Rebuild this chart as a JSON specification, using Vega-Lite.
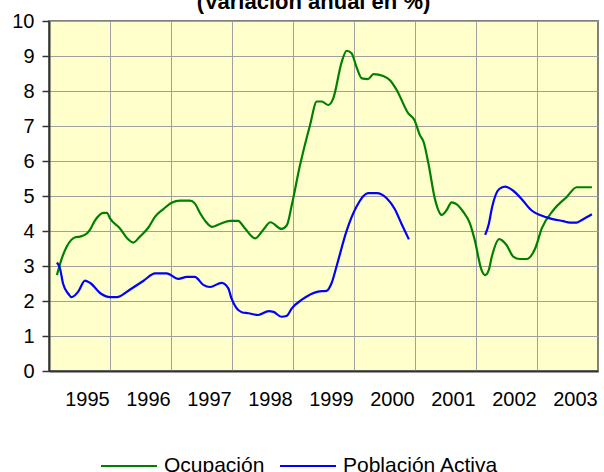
{
  "$schema": "https://vega.github.io/schema/vega-lite/v6.json",
  "width": 549,
  "height": 350,
  "autosize": {"type": "none"},
  "padding": {"left": 49, "top": 21, "right": 6, "bottom": 101},
  "background": "white",
  "title": {
    "text": "(Variación anual en %)",
    "font": "Liberation Sans",
    "fontSize": 22,
    "fontWeight": "bold",
    "color": "black",
    "anchor": "middle",
    "frame": "group",
    "baseline": "alphabetic",
    "offset": 0,
    "dx": -10,
    "dy": 20
  },
  "config": {
    "view": {"fill": "#FFFFCC", "stroke": "#808080", "strokeWidth": 2},
    "axis": {
      "labelFont": "Liberation Sans",
      "labelFontSize": 20,
      "labelColor": "black",
      "gridColor": "#a0a0a0",
      "gridWidth": 1,
      "domainColor": "#333333",
      "domainWidth": 2,
      "tickColor": "#333333",
      "title": null
    }
  },
  "data": {
    "values": [
      {"t": 1995.13, "v": 2.74, "serie": "Ocupación", "seg": "a"},
      {"t": 1995.21, "v": 3.22, "serie": "Ocupación", "seg": "a"},
      {"t": 1995.29, "v": 3.55, "serie": "Ocupación", "seg": "a"},
      {"t": 1995.43, "v": 3.82, "serie": "Ocupación", "seg": "a"},
      {"t": 1995.51, "v": 3.84, "serie": "Ocupación", "seg": "a"},
      {"t": 1995.62, "v": 3.93, "serie": "Ocupación", "seg": "a"},
      {"t": 1995.67, "v": 4.03, "serie": "Ocupación", "seg": "a"},
      {"t": 1995.75, "v": 4.29, "serie": "Ocupación", "seg": "a"},
      {"t": 1995.89, "v": 4.52, "serie": "Ocupación", "seg": "a"},
      {"t": 1995.95, "v": 4.52, "serie": "Ocupación", "seg": "a"},
      {"t": 1996.0, "v": 4.36, "serie": "Ocupación", "seg": "a"},
      {"t": 1996.16, "v": 4.08, "serie": "Ocupación", "seg": "a"},
      {"t": 1996.3, "v": 3.76, "serie": "Ocupación", "seg": "a"},
      {"t": 1996.38, "v": 3.67, "serie": "Ocupación", "seg": "a"},
      {"t": 1996.49, "v": 3.84, "serie": "Ocupación", "seg": "a"},
      {"t": 1996.63, "v": 4.1, "serie": "Ocupación", "seg": "a"},
      {"t": 1996.74, "v": 4.41, "serie": "Ocupación", "seg": "a"},
      {"t": 1996.87, "v": 4.62, "serie": "Ocupación", "seg": "a"},
      {"t": 1997.01, "v": 4.81, "serie": "Ocupación", "seg": "a"},
      {"t": 1997.15, "v": 4.87, "serie": "Ocupación", "seg": "a"},
      {"t": 1997.31, "v": 4.87, "serie": "Ocupación", "seg": "a"},
      {"t": 1997.39, "v": 4.79, "serie": "Ocupación", "seg": "a"},
      {"t": 1997.48, "v": 4.5, "serie": "Ocupación", "seg": "a"},
      {"t": 1997.56, "v": 4.29, "serie": "Ocupación", "seg": "a"},
      {"t": 1997.67, "v": 4.12, "serie": "Ocupación", "seg": "a"},
      {"t": 1997.8, "v": 4.2, "serie": "Ocupación", "seg": "a"},
      {"t": 1997.97, "v": 4.29, "serie": "Ocupación", "seg": "a"},
      {"t": 1998.1, "v": 4.29, "serie": "Ocupación", "seg": "a"},
      {"t": 1998.21, "v": 4.08, "serie": "Ocupación", "seg": "a"},
      {"t": 1998.38, "v": 3.79, "serie": "Ocupación", "seg": "a"},
      {"t": 1998.51, "v": 4.03, "serie": "Ocupación", "seg": "a"},
      {"t": 1998.63, "v": 4.25, "serie": "Ocupación", "seg": "a"},
      {"t": 1998.81, "v": 4.06, "serie": "Ocupación", "seg": "a"},
      {"t": 1998.9, "v": 4.17, "serie": "Ocupación", "seg": "a"},
      {"t": 1998.98, "v": 4.74, "serie": "Ocupación", "seg": "a"},
      {"t": 1999.11, "v": 5.84, "serie": "Ocupación", "seg": "a"},
      {"t": 1999.28, "v": 7.03, "serie": "Ocupación", "seg": "a"},
      {"t": 1999.39, "v": 7.7, "serie": "Ocupación", "seg": "a"},
      {"t": 1999.47, "v": 7.7, "serie": "Ocupación", "seg": "a"},
      {"t": 1999.58, "v": 7.6, "serie": "Ocupación", "seg": "a"},
      {"t": 1999.66, "v": 7.79, "serie": "Ocupación", "seg": "a"},
      {"t": 1999.8, "v": 8.84, "serie": "Ocupación", "seg": "a"},
      {"t": 1999.88, "v": 9.15, "serie": "Ocupación", "seg": "a"},
      {"t": 1999.96, "v": 9.08, "serie": "Ocupación", "seg": "a"},
      {"t": 2000.04, "v": 8.69, "serie": "Ocupación", "seg": "a"},
      {"t": 2000.13, "v": 8.36, "serie": "Ocupación", "seg": "a"},
      {"t": 2000.23, "v": 8.34, "serie": "Ocupación", "seg": "a"},
      {"t": 2000.32, "v": 8.48, "serie": "Ocupación", "seg": "a"},
      {"t": 2000.48, "v": 8.43, "serie": "Ocupación", "seg": "a"},
      {"t": 2000.59, "v": 8.31, "serie": "Ocupación", "seg": "a"},
      {"t": 2000.7, "v": 8.03, "serie": "Ocupación", "seg": "a"},
      {"t": 2000.89, "v": 7.36, "serie": "Ocupación", "seg": "a"},
      {"t": 2000.99, "v": 7.17, "serie": "Ocupación", "seg": "a"},
      {"t": 2001.08, "v": 6.74, "serie": "Ocupación", "seg": "a"},
      {"t": 2001.14, "v": 6.55, "serie": "Ocupación", "seg": "a"},
      {"t": 2001.22, "v": 5.93, "serie": "Ocupación", "seg": "a"},
      {"t": 2001.33, "v": 4.89, "serie": "Ocupación", "seg": "a"},
      {"t": 2001.44, "v": 4.46, "serie": "Ocupación", "seg": "a"},
      {"t": 2001.52, "v": 4.6, "serie": "Ocupación", "seg": "a"},
      {"t": 2001.6, "v": 4.82, "serie": "Ocupación", "seg": "a"},
      {"t": 2001.68, "v": 4.77, "serie": "Ocupación", "seg": "a"},
      {"t": 2001.79, "v": 4.55, "serie": "Ocupación", "seg": "a"},
      {"t": 2001.9, "v": 4.22, "serie": "Ocupación", "seg": "a"},
      {"t": 2001.98, "v": 3.74, "serie": "Ocupación", "seg": "a"},
      {"t": 2002.09, "v": 2.89, "serie": "Ocupación", "seg": "a"},
      {"t": 2002.15, "v": 2.74, "serie": "Ocupación", "seg": "a"},
      {"t": 2002.21, "v": 2.89, "serie": "Ocupación", "seg": "a"},
      {"t": 2002.26, "v": 3.27, "serie": "Ocupación", "seg": "a"},
      {"t": 2002.38, "v": 3.77, "serie": "Ocupación", "seg": "a"},
      {"t": 2002.5, "v": 3.6, "serie": "Ocupación", "seg": "a"},
      {"t": 2002.61, "v": 3.27, "serie": "Ocupación", "seg": "a"},
      {"t": 2002.72, "v": 3.2, "serie": "Ocupación", "seg": "a"},
      {"t": 2002.83, "v": 3.2, "serie": "Ocupación", "seg": "a"},
      {"t": 2002.97, "v": 3.5, "serie": "Ocupación", "seg": "a"},
      {"t": 2003.08, "v": 4.08, "serie": "Ocupación", "seg": "a"},
      {"t": 2003.27, "v": 4.6, "serie": "Ocupación", "seg": "a"},
      {"t": 2003.49, "v": 4.98, "serie": "Ocupación", "seg": "a"},
      {"t": 2003.65, "v": 5.25, "serie": "Ocupación", "seg": "a"},
      {"t": 2003.9, "v": 5.25, "serie": "Ocupación", "seg": "a"},
      {"t": 1995.13, "v": 3.1, "serie": "Población Activa", "seg": "b"},
      {"t": 1995.18, "v": 2.93, "serie": "Población Activa", "seg": "b"},
      {"t": 1995.23, "v": 2.5, "serie": "Población Activa", "seg": "b"},
      {"t": 1995.32, "v": 2.2, "serie": "Población Activa", "seg": "b"},
      {"t": 1995.37, "v": 2.11, "serie": "Población Activa", "seg": "b"},
      {"t": 1995.48, "v": 2.27, "serie": "Población Activa", "seg": "b"},
      {"t": 1995.59, "v": 2.58, "serie": "Población Activa", "seg": "b"},
      {"t": 1995.67, "v": 2.52, "serie": "Población Activa", "seg": "b"},
      {"t": 1995.86, "v": 2.2, "serie": "Población Activa", "seg": "b"},
      {"t": 1996.0, "v": 2.11, "serie": "Población Activa", "seg": "b"},
      {"t": 1996.11, "v": 2.11, "serie": "Población Activa", "seg": "b"},
      {"t": 1996.33, "v": 2.33, "serie": "Población Activa", "seg": "b"},
      {"t": 1996.55, "v": 2.58, "serie": "Población Activa", "seg": "b"},
      {"t": 1996.74, "v": 2.79, "serie": "Población Activa", "seg": "b"},
      {"t": 1996.93, "v": 2.79, "serie": "Población Activa", "seg": "b"},
      {"t": 1997.12, "v": 2.63, "serie": "Población Activa", "seg": "b"},
      {"t": 1997.26, "v": 2.69, "serie": "Población Activa", "seg": "b"},
      {"t": 1997.39, "v": 2.69, "serie": "Población Activa", "seg": "b"},
      {"t": 1997.53, "v": 2.46, "serie": "Población Activa", "seg": "b"},
      {"t": 1997.64, "v": 2.4, "serie": "Población Activa", "seg": "b"},
      {"t": 1997.83, "v": 2.52, "serie": "Población Activa", "seg": "b"},
      {"t": 1997.94, "v": 2.36, "serie": "Población Activa", "seg": "b"},
      {"t": 1997.99, "v": 2.08, "serie": "Población Activa", "seg": "b"},
      {"t": 1998.16, "v": 1.68, "serie": "Población Activa", "seg": "b"},
      {"t": 1998.27, "v": 1.65, "serie": "Población Activa", "seg": "b"},
      {"t": 1998.43, "v": 1.6, "serie": "Población Activa", "seg": "b"},
      {"t": 1998.6, "v": 1.71, "serie": "Población Activa", "seg": "b"},
      {"t": 1998.68, "v": 1.69, "serie": "Población Activa", "seg": "b"},
      {"t": 1998.81, "v": 1.55, "serie": "Población Activa", "seg": "b"},
      {"t": 1998.9, "v": 1.58, "serie": "Población Activa", "seg": "b"},
      {"t": 1998.98, "v": 1.79, "serie": "Población Activa", "seg": "b"},
      {"t": 1999.14, "v": 2.03, "serie": "Población Activa", "seg": "b"},
      {"t": 1999.41, "v": 2.27, "serie": "Población Activa", "seg": "b"},
      {"t": 1999.55, "v": 2.29, "serie": "Población Activa", "seg": "b"},
      {"t": 1999.63, "v": 2.5, "serie": "Población Activa", "seg": "b"},
      {"t": 1999.72, "v": 3.03, "serie": "Población Activa", "seg": "b"},
      {"t": 1999.88, "v": 4.01, "serie": "Población Activa", "seg": "b"},
      {"t": 2000.04, "v": 4.69, "serie": "Población Activa", "seg": "b"},
      {"t": 2000.23, "v": 5.08, "serie": "Población Activa", "seg": "b"},
      {"t": 2000.37, "v": 5.08, "serie": "Población Activa", "seg": "b"},
      {"t": 2000.54, "v": 4.93, "serie": "Población Activa", "seg": "b"},
      {"t": 2000.67, "v": 4.62, "serie": "Población Activa", "seg": "b"},
      {"t": 2000.78, "v": 4.2, "serie": "Población Activa", "seg": "b"},
      {"t": 2000.9, "v": 3.76, "serie": "Población Activa", "seg": "b"},
      {"t": 2002.15, "v": 3.89, "serie": "Población Activa", "seg": "c"},
      {"t": 2002.21, "v": 4.2, "serie": "Población Activa", "seg": "c"},
      {"t": 2002.26, "v": 4.65, "serie": "Población Activa", "seg": "c"},
      {"t": 2002.38, "v": 5.2, "serie": "Población Activa", "seg": "c"},
      {"t": 2002.48, "v": 5.27, "serie": "Población Activa", "seg": "c"},
      {"t": 2002.61, "v": 5.15, "serie": "Población Activa", "seg": "c"},
      {"t": 2002.75, "v": 4.91, "serie": "Población Activa", "seg": "c"},
      {"t": 2002.89, "v": 4.62, "serie": "Población Activa", "seg": "c"},
      {"t": 2003.16, "v": 4.39, "serie": "Población Activa", "seg": "c"},
      {"t": 2003.43, "v": 4.28, "serie": "Población Activa", "seg": "c"},
      {"t": 2003.54, "v": 4.24, "serie": "Población Activa", "seg": "c"},
      {"t": 2003.65, "v": 4.24, "serie": "Población Activa", "seg": "c"},
      {"t": 2003.75, "v": 4.33, "serie": "Población Activa", "seg": "c"},
      {"t": 2003.9, "v": 4.48, "serie": "Población Activa", "seg": "c"}
    ]
  },
  "mark": {"type": "line", "strokeWidth": 2.2, "interpolate": "monotone", "clip": true},
  "encoding": {
    "x": {
      "field": "t",
      "type": "quantitative",
      "scale": {"domain": [1995, 2004], "nice": false, "zero": false},
      "axis": {
        "values": [1995, 1996, 1997, 1998, 1999, 2000, 2001, 2002, 2003],
        "format": "d",
        "grid": true,
        "ticks": false,
        "tickSize": 0,
        "labelOffset": 38,
        "labelPadding": 18,
        "labelFlush": false,
        "labelOverlap": false
      }
    },
    "y": {
      "field": "v",
      "type": "quantitative",
      "scale": {"domain": [0, 10], "nice": false},
      "axis": {
        "values": [0, 1, 2, 3, 4, 5, 6, 7, 8, 9, 10],
        "grid": true,
        "tickSize": 7,
        "tickWidth": 1.5,
        "labelPadding": 8,
        "labelFlush": false
      }
    },
    "detail": {"field": "seg"},
    "color": {
      "field": "serie",
      "type": "nominal",
      "scale": {"domain": ["Ocupación", "Población Activa"], "range": ["#008000", "#0000FF"]},
      "legend": {
        "title": null,
        "orient": "none",
        "direction": "horizontal",
        "legendX": 51,
        "legendY": 416,
        "symbolType": "stroke",
        "symbolSize": 3136,
        "symbolStrokeWidth": 2,
        "labelFont": "Liberation Sans",
        "labelFontSize": 21,
        "labelColor": "black",
        "labelOffset": 6,
        "columnPadding": 11,
        "labelLimit": 300
      }
    }
  }
}
